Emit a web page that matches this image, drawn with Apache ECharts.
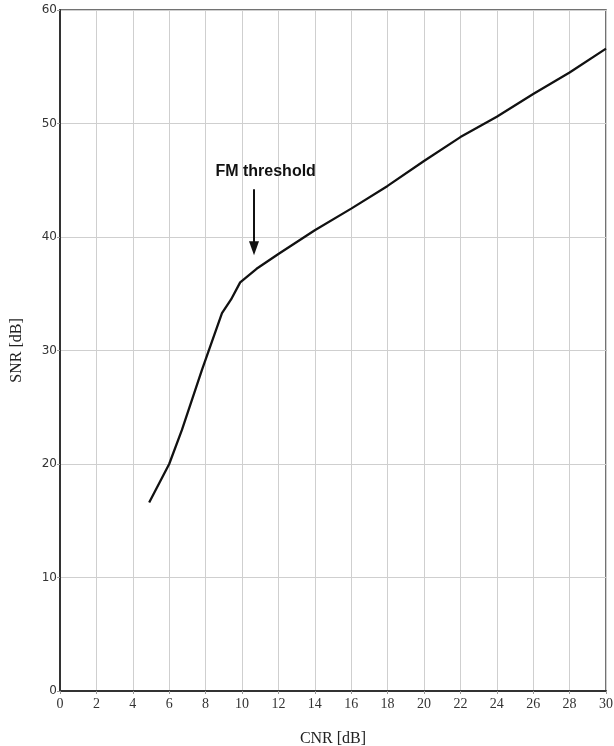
<!DOCTYPE html>
<html>
<head>
<meta charset="utf-8">
<script src="https://cdn.jsdelivr.net/npm/echarts@6/dist/echarts.min.js"></script>
<style>html,body{margin:0;padding:0;background:#fff;overflow:hidden;}#c{width:614px;height:746px;}</style>
</head>
<body>
<div id="c"></div>
<script>
var cnr = [4.9, 6.0, 6.7, 7.8, 8.9, 9.4, 9.9, 10.2, 10.8, 12, 14, 16, 18, 20, 22, 24, 26, 28, 30];
var snr = [16.6, 20.0, 23.0, 28.3, 33.3, 34.5, 36.0, 36.4, 37.2, 38.5, 40.6, 42.5, 44.5, 46.7, 48.8, 50.6, 52.6, 54.5, 56.6];
var xTitle = 'CNR [dB]';
var yTitle = 'SNR [dB]';
var annotationText = 'FM threshold';
var arrowX = 10.66, arrowTop = 44.2, arrowTip = 39.0;
var labelPos = [11.3, 45.8];

var pts = cnr.map(function (x, i) { return [x, snr[i]]; });
var chart = echarts.init(document.getElementById('c'));
chart.setOption({
  animation: false,
  backgroundColor: '#fff',
  grid: { left: 60, right: 8, top: 10, bottom: 55, containLabel: false, outerBoundsMode: 'none', show: true, borderColor: '#444', borderWidth: 1.5, backgroundColor: 'transparent' },
  xAxis: {
    type: 'value', min: 0, max: 30, interval: 2,
    name: xTitle, nameLocation: 'middle', nameGap: 40,
    nameTextStyle: { fontFamily: 'Liberation Serif', fontSize: 16, color: '#222' },
    axisLine: { show: true, lineStyle: { color: '#333', width: 2 } },
    axisTick: { show: true, length: 3, lineStyle: { color: '#999' } },
    axisLabel: { fontFamily: 'Liberation Serif', fontSize: 14, color: '#333', margin: 6 },
    splitLine: { show: true, lineStyle: { color: '#cfcfcf', width: 1 } }
  },
  yAxis: {
    type: 'value', min: 0, max: 60, interval: 10,
    name: yTitle, nameLocation: 'middle', nameGap: 35, nameRotate: 90,
    nameTextStyle: { fontFamily: 'Liberation Serif', fontSize: 16, color: '#222' },
    axisLine: { show: true, lineStyle: { color: '#333', width: 2 } },
    axisTick: { show: true, length: 3, lineStyle: { color: '#999' } },
    axisLabel: { fontFamily: 'DejaVu Sans', fontSize: 12, color: '#333', margin: 3 },
    splitLine: { show: true, lineStyle: { color: '#cfcfcf', width: 1 } }
  },
  series: [{
    type: 'line',
    data: pts,
    showSymbol: false,
    symbol: 'none',
    smooth: false,
    lineStyle: { color: '#111', width: 2.3 },
    markLine: {
      silent: true,
      symbolSize: [10, 14],
      lineStyle: { color: '#111', width: 2, type: 'solid' },
      label: { show: false },
      data: [[
        { coord: [arrowX, arrowTop], symbol: 'none' },
        { coord: [arrowX, arrowTip], symbol: 'triangle' }
      ]]
    },
    markPoint: {
      silent: true,
      symbol: 'rect',
      symbolSize: 1,
      itemStyle: { color: 'rgba(0,0,0,0)' },
      label: {
        show: true, position: 'inside', formatter: annotationText,
        fontFamily: 'Liberation Sans', fontWeight: 'bold', fontSize: 16, color: '#111'
      },
      data: [{ coord: labelPos }]
    }
  }]
});
</script>
</body>
</html>
